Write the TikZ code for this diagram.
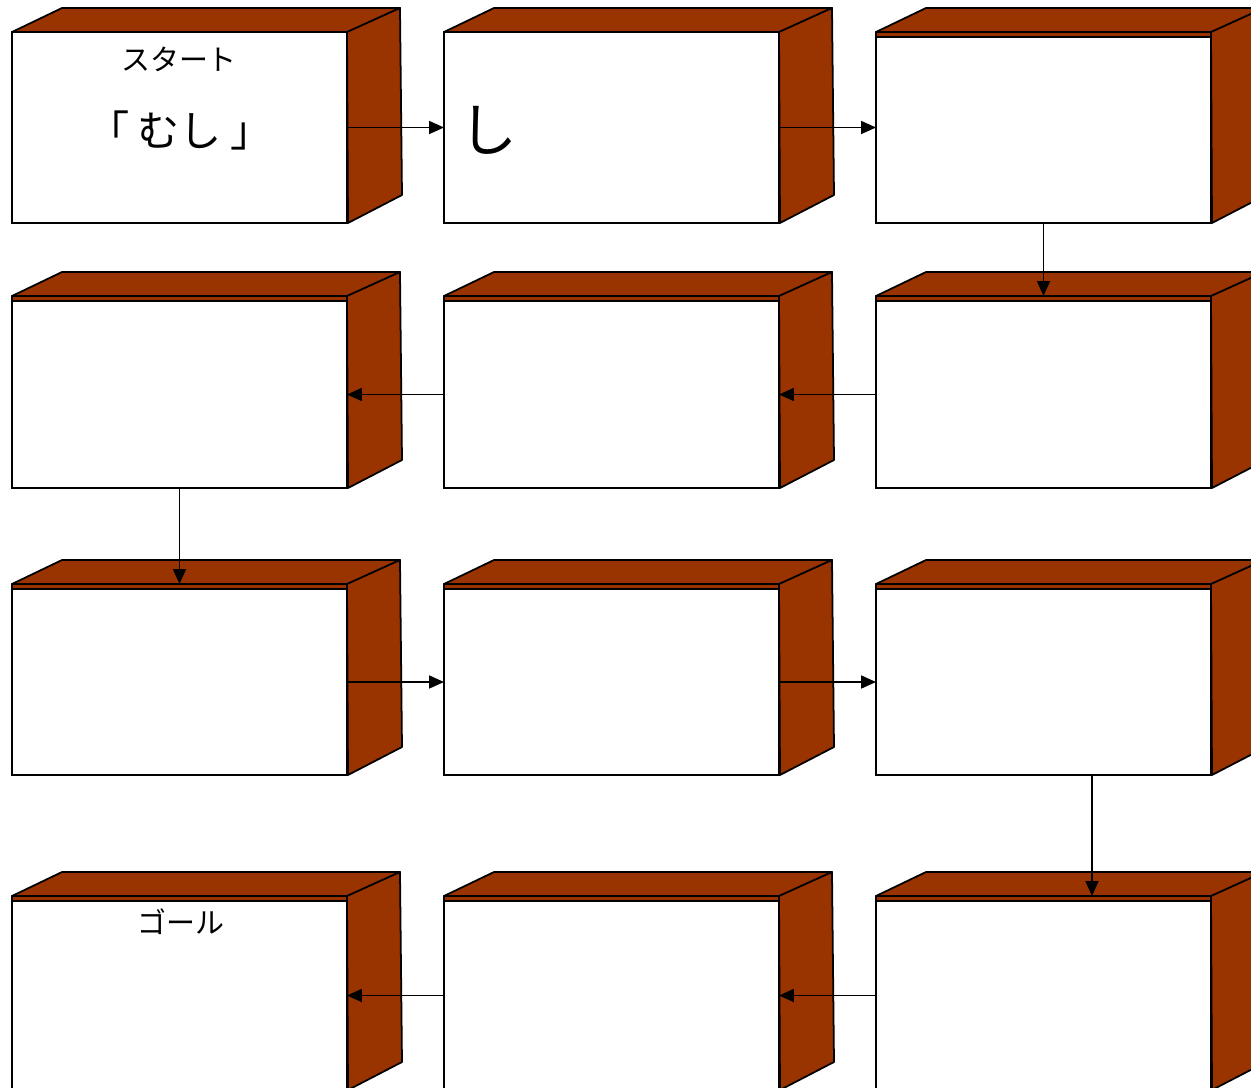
\documentclass[tikz,border=0pt]{standalone}
\usepackage{fontspec}
\setmainfont{Noto Sans CJK JP}
\usetikzlibrary{arrows.meta}
\definecolor{brick}{RGB}{153,51,0}
\newcommand\cubebox[5]{% name, L, T(outer top), B, strip
  \pgfmathsetmacro\cbR{#2+335}
  \pgfmathsetmacro\cbTi{#3+#5}
  \filldraw[face] (#2,#3) -- (#2+50,#3-24) -- (\cbR+53,#3-24) -- (\cbR+1,#3) -- cycle;
  \filldraw[face] (#2,#3) rectangle (\cbR+2,\cbTi);
  \filldraw[face] (\cbR,#3) -- (\cbR+53,#3-24) -- (\cbR+55,#4-28) -- (\cbR+1,#4) -- cycle;
  \node[front, minimum height={(#4-\cbTi)*0.02cm}] (#1) at (#2+167.5,{(\cbTi+#4)/2}) {};
}
\begin{document}
\begin{tikzpicture}[x=0.02cm,y=-0.02cm,
  face/.style={fill=brick,draw=black,line width=1pt,line join=round},
  front/.style={draw=black,fill=white,line width=1pt,inner sep=0pt,outer sep=0pt,minimum width=6.7cm},
  arr/.style={-{Triangle[length=0.3cm,width=0.26cm]},line width=1pt},
  lbl/.style={inner sep=0pt,font=\fontsize{16.5pt}{16.5pt}\selectfont}]
\useasboundingbox (0,0) rectangle (1251,1088);
\clip (0,0) rectangle (1251,1088);
% row 1
\cubebox{b11}{12}{32}{223}{0}
\cubebox{b12}{444}{32}{223}{0}
\cubebox{b13}{876}{32}{223}{5}
% row 2
\cubebox{b21}{12}{296}{488}{5}
\cubebox{b22}{444}{296}{488}{5}
\cubebox{b23}{876}{296}{488}{5}
% row 3
\cubebox{b31}{12}{584}{775}{5}
\cubebox{b32}{444}{584}{775}{5}
\cubebox{b33}{876}{584}{775}{5}
% row 4
\cubebox{b41}{12}{896}{1090}{5}
\cubebox{b42}{444}{896}{1090}{5}
\cubebox{b43}{876}{896}{1090}{5}
% texts
\node[lbl] (t1) at (179,59) {スタート};
\node[inner sep=0pt,font=\fontsize{24pt}{24pt}\selectfont] (t2) at (180,130) {「\kern4.5ptむし\kern4.5pt」};
\node[inner sep=0pt,font=\fontsize{33pt}{33pt}\selectfont,anchor=west] (t3) at (459,130) {し};
\node[lbl] (t4) at (181,922) {ゴール};
% connectors
\draw[arr] (b11.east) -- (b12.west);
\draw[arr] (b12.east) -- (b12.east -| b13.west);
\draw[arr] (b13.south) -- ([yshift=0.1cm]b23.north);
\draw[arr] (b23.west) -- (b22.east);
\draw[arr] (b22.west) -- (b21.east);
\draw[arr] (b21.south) -- ([yshift=0.1cm]b31.north);
\draw[arr] (b31.east) -- (b32.west);
\draw[arr] (b32.east) -- (b33.west);
\draw[arr] ([xshift=0.97cm]b33.south) -- ([xshift=0.97cm,yshift=0.1cm]b43.north);
\draw[arr] (b43.west) -- (b42.east);
\draw[arr] (b42.west) -- (b41.east);
\end{tikzpicture}
\end{document}
